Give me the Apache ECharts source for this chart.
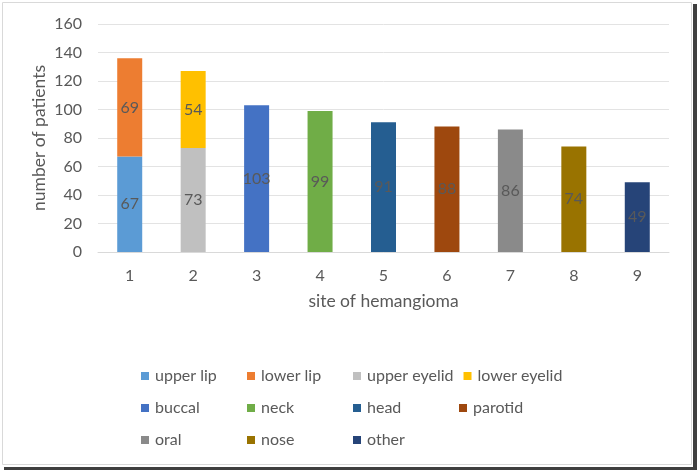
<!DOCTYPE html>
<html>
<head>
<meta charset="utf-8">
<script src="https://cdn.jsdelivr.net/npm/echarts@6/dist/echarts.min.js"></script>
<style>
html,body{margin:0;padding:0;background:#fff;}
#c{width:697px;height:470px;}
</style>
</head>
<body>
<div id="c"></div>
<script>
const categories = ['1','2','3','4','5','6','7','8','9'];
const seriesNames = ['upper lip','lower lip','upper eyelid','lower eyelid','buccal','neck','head','parotid','oral','nose','other'];
const upperLip    = [67, null, null, null, null, null, null, null, null];
const lowerLip    = [69, null, null, null, null, null, null, null, null];
const upperEyelid = [null, 73, null, null, null, null, null, null, null];
const lowerEyelid = [null, 54, null, null, null, null, null, null, null];
const buccal      = [null, null, 103, null, null, null, null, null, null];
const neck        = [null, null, null, 99, null, null, null, null, null];
const head        = [null, null, null, null, 91, null, null, null, null];
const parotid     = [null, null, null, null, null, 88, null, null, null];
const oral        = [null, null, null, null, null, null, 86, null, null];
const nose        = [null, null, null, null, null, null, null, 74, null];
const other       = [null, null, null, null, null, null, null, null, 49];
const seriesValues = [upperLip, lowerLip, upperEyelid, lowerEyelid, buccal, neck, head, parotid, oral, nose, other];
const colors = ['#5B9BD5','#ED7D31','#C0C0C0','#FFC000','#4472C4','#70AD47','#255E91','#9E480E','#8A8A8A','#997300','#264478'];

const FONT = 'Lato';
const TXT = '#595959';

const chart = echarts.init(document.getElementById('c'));
chart.setOption({
  animation: false,
  color: colors,
  textStyle: { fontFamily: FONT },
  graphic: [
    { type: 'rect', shape: { x: 2.5, y: 2.5, width: 689, height: 462 }, style: { fill: 'none', stroke: '#D9D9D9', lineWidth: 1 }, silent: true },
    { type: 'rect', shape: { x: 693, y: 4, width: 4, height: 466 }, style: { fill: '#3F3F3F' }, silent: true },
    { type: 'rect', shape: { x: 4, y: 467, width: 693, height: 3 }, style: { fill: '#3F3F3F' }, silent: true }
  ],
  grid: { left: 98, right: 28, top: 24, bottom: 218, containLabel: false },
  legend: {
    data: seriesNames,
    left: 141, top: 365, width: 430,
    padding: 0,
    orient: 'horizontal',
    itemWidth: 8, itemHeight: 8, itemGap: 10,
    icon: 'rect',
    textStyle: { color: TXT, fontSize: 16, fontFamily: FONT, width: 82, lineHeight: 22, padding: [0,0,0,1] }
  },
  xAxis: {
    type: 'category',
    data: categories,
    name: 'site of hemangioma',
    nameLocation: 'middle',
    nameGap: 40,
    nameMoveOverlap: false,
    nameTextStyle: { color: TXT, fontSize: 17.5, fontFamily: FONT },
    axisLine: { lineStyle: { color: '#D9D9D9' } },
    axisTick: { show: false },
    axisLabel: { color: TXT, fontSize: 16, margin: 16, fontFamily: FONT }
  },
  yAxis: {
    type: 'value',
    min: 0, max: 160, interval: 20,
    name: 'number of patients',
    nameLocation: 'middle',
    nameGap: 50,
    nameMoveOverlap: false,
    nameRotate: 90,
    nameTextStyle: { color: TXT, fontSize: 17.5, fontFamily: FONT },
    axisLine: { show: false },
    axisTick: { show: false },
    axisLabel: { color: TXT, fontSize: 16, margin: 16, fontFamily: FONT },
    splitLine: { lineStyle: { color: '#E3E3E3' } }
  },
  series: seriesNames.map((n, i) => ({
    name: n,
    type: 'bar',
    stack: 'total',
    barWidth: 25,
    data: seriesValues[i],
    itemStyle: { color: colors[i] },
    label: { show: true, position: 'inside', color: TXT, fontSize: 16, fontFamily: FONT }
  }))
});
</script>
</body>
</html>
